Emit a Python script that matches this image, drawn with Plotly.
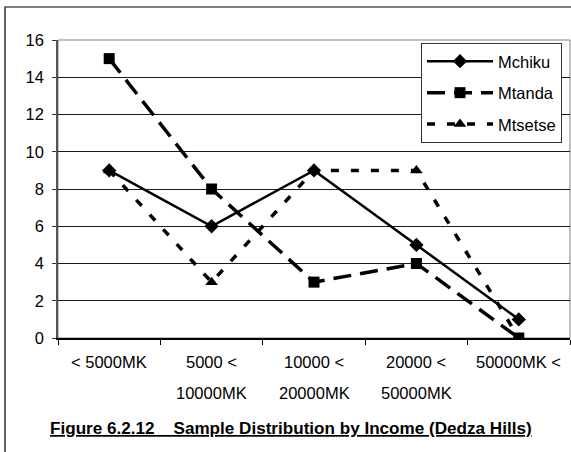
import plotly.graph_objects as go

# Income bands (two-line category labels)
categories = ["< 5000MK", "5000 < 10000MK", "10000 < 20000MK", "20000 < 50000MK", "50000MK <"]
label_line1 = ["< 5000MK", "5000 <", "10000 <", "20000 <", "50000MK <"]
label_line2 = ["", "10000MK", "20000MK", "50000MK", ""]

# Sample counts per village
mchiku = [9, 6, 9, 5, 1]
mtanda = [15, 8, 3, 4, 0]
mtsetse = [9, 3, 9, 9, 0]

y_ticks = [0, 2, 4, 6, 8, 10, 12, 14, 16]

FONT = "Liberation Sans, Arial, sans-serif"
FS = 16.5

fig = go.Figure()

fig.add_trace(go.Scatter(
    x=categories, y=mchiku, name="Mchiku", mode="lines+markers",
    legendgroup="a",
    line=dict(color="black", width=2.5),
    marker=dict(symbol="diamond", size=11, color="black"),
))
fig.add_trace(go.Scatter(
    x=categories, y=mtanda, name="Mtanda", mode="lines+markers",
    legendgroup="b",
    line=dict(color="black", width=3.5, dash="18px,9px"),
    marker=dict(symbol="square", size=11, color="black"),
))
fig.add_trace(go.Scatter(
    x=categories, y=mtsetse, name="Mtsetse", mode="lines+markers",
    legendgroup="c",
    line=dict(color="black", width=3.5, dash="8px,12px"),
    marker=dict(symbol="triangle-up", size=11, color="black"),
))

# Two-line category labels below the axis
annotations = []
for cat, l1, l2 in zip(categories, label_line1, label_line2):
    annotations.append(dict(
        x=cat, y=0, xref="x", yref="paper", text=l1, showarrow=False,
        xanchor="center", yanchor="middle", yshift=-24,
        font=dict(family=FONT, size=FS, color="black"),
    ))
    if l2:
        annotations.append(dict(
            x=cat, y=0, xref="x", yref="paper", text=l2, showarrow=False,
            xanchor="center", yanchor="middle", yshift=-55,
            font=dict(family=FONT, size=FS, color="black"),
        ))

# Figure caption
annotations.append(dict(
    x=-0.0195, y=-0.303, xref="paper", yref="paper",
    text="<b>Figure 6.2.12    Sample Distribution by Income (Dedza Hills)</b>",
    showarrow=False, xanchor="left", yanchor="middle",
    font=dict(family=FONT, size=17.1, color="black", lineposition="under"),
))

shapes = [
    # outer chart frame
    dict(type="rect", xref="paper", yref="paper",
         x0=-0.1035, x1=1.2, y0=-0.6, y1=1.1107,
         line=dict(color="black", width=1.2), layer="below"),
    # plot area border
    dict(type="rect", xref="paper", yref="paper",
         x0=0, x1=1, y0=0, y1=1,
         line=dict(color="#808080", width=1), layer="below"),
]

fig.update_layout(
    width=571, height=452,
    margin=dict(l=58, r=1, t=40, b=114),
    paper_bgcolor="white", plot_bgcolor="white",
    font=dict(family=FONT, size=FS, color="black"),
    showlegend=True,
    legend=dict(
        x=0.709, y=0.99, xanchor="left", yanchor="top",
        bgcolor="white", bordercolor="#333", borderwidth=1,
        font=dict(family=FONT, size=FS, color="black"),
        itemwidth=66, traceorder="grouped", tracegroupgap=7,
        itemclick=False, itemdoubleclick=False,
    ),
    xaxis=dict(
        type="category", range=[-0.5, 4.5], showticklabels=False,
        tickson="boundaries", ticks="outside", ticklen=5, tickcolor="black",
        showline=True, linecolor="black", linewidth=1.5,
        showgrid=False, zeroline=False, fixedrange=True,
    ),
    yaxis=dict(
        range=[0, 16], tickvals=y_ticks, ticks="outside", ticklen=4,
        tickcolor="#333", ticklabelstandoff=5,
        showline=True, linecolor="#555", linewidth=1.5,
        showgrid=True, gridcolor="#1a1a1a", gridwidth=1,
        zeroline=False, fixedrange=True,
    ),
    annotations=annotations,
    shapes=shapes,
)

fig.write_html("out.html")
